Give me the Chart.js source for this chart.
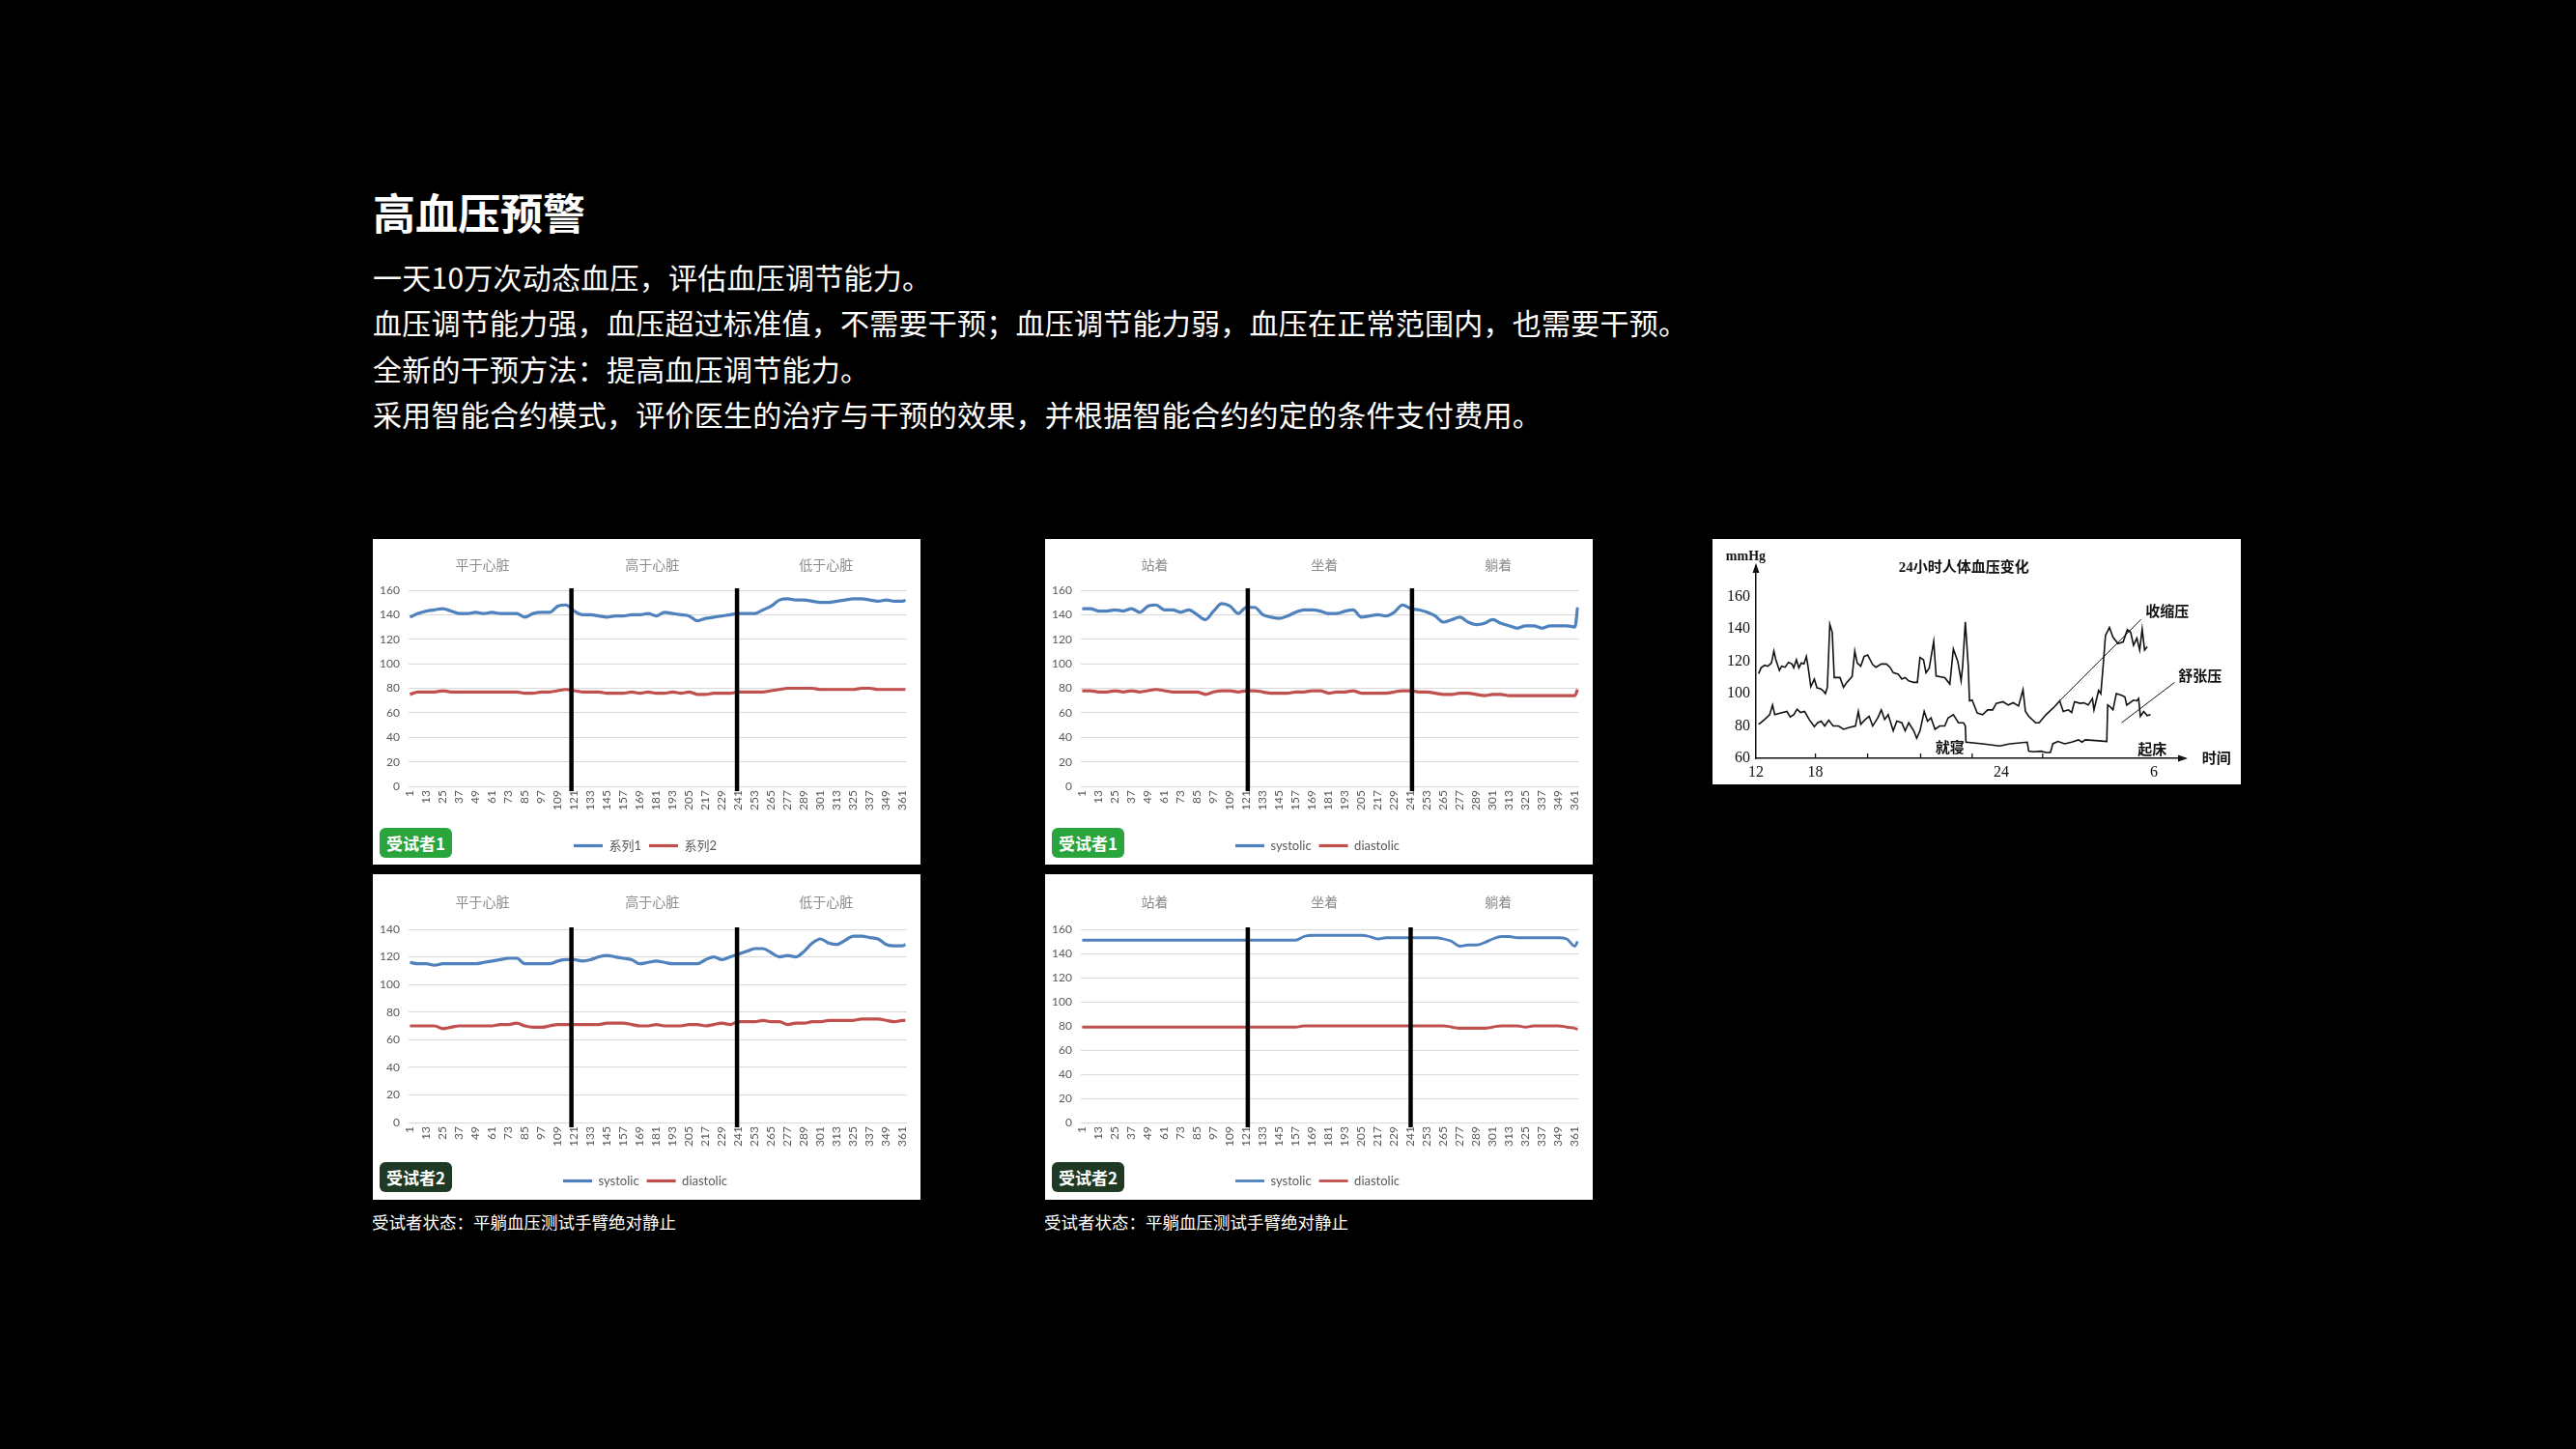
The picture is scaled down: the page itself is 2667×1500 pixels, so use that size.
<!DOCTYPE html>
<html lang="zh-CN">
<head>
<meta charset="utf-8">
<title>高血压预警</title>
<script src="https://cdn.jsdelivr.net/npm/chart.js@4.4.1/dist/chart.umd.min.js"></script>
<style>
  html, body { margin:0; padding:0; background:#000; }
  body { width:2667px; height:1500px; position:relative; overflow:hidden; font-family:"Noto Sans CJK SC","Noto Sans",sans-serif; color:#fff; }
  .txt { position:absolute; left:386px; white-space:nowrap; }
  #title { top:197px; font-size:44px; line-height:44px; font-weight:bold; }
  .body-line { font-size:30px; line-height:30px; letter-spacing:0.25px; }
  .panel { position:absolute; background:#fff; }
  .panel canvas { position:absolute; left:0; top:0; }
  .badge { position:absolute; left:7px; width:75px; height:31px; border-radius:6px; color:#fff; font-weight:bold; font-size:17px; line-height:31px; text-align:center; z-index:2; }
  .badge.g1 { background:#2aa43c; }
  .badge.g2 { background:#1e3a24; }
  .caption { position:absolute; font-size:17.5px; line-height:18px; color:#fff; white-space:nowrap; }
</style>
</head>
<body>
<div id="title" class="txt">高血压预警</div>
<div class="txt body-line" style="top:271px">一天10万次动态血压，评估血压调节能力。</div>
<div class="txt body-line" style="top:318px">血压调节能力强，血压超过标准值，不需要干预；血压调节能力弱，血压在正常范围内，也需要干预。</div>
<div class="txt body-line" style="top:366px">全新的干预方法：提高血压调节能力。</div>
<div class="txt body-line" style="top:413px">采用智能合约模式，评价医生的治疗与干预的效果，并根据智能合约约定的条件支付费用。</div>

<div class="panel" style="left:386px;top:558px;width:567px;height:337px"><canvas id="cA" width="567" height="337"></canvas><div class="badge g1" style="top:299px">受试者1</div></div>
<div class="panel" style="left:386px;top:905px;width:567px;height:337px"><canvas id="cB" width="567" height="337"></canvas><div class="badge g2" style="top:298px">受试者2</div></div>
<div class="panel" style="left:1082px;top:558px;width:567px;height:337px"><canvas id="cC" width="567" height="337"></canvas><div class="badge g1" style="top:299px">受试者1</div></div>
<div class="panel" style="left:1082px;top:905px;width:567px;height:337px"><canvas id="cD" width="567" height="337"></canvas><div class="badge g2" style="top:298px">受试者2</div></div>
<div class="panel" style="left:1773px;top:558px;width:547px;height:254px"><canvas id="cE" width="547" height="254"></canvas></div>

<div class="caption" style="left:385px;top:1256px">受试者状态：平躺血压测试手臂绝对静止</div>
<div class="caption" style="left:1081px;top:1256px">受试者状态：平躺血压测试手臂绝对静止</div>

<script>
// ---------- data: measurement index (x) ----------
const xs = [1,7,13,19,25,31,37,43,49,55,61,67,73,79,85,91,97,103,109,115,121,127,133,139,145,151,157,163,169,175,181,187,193,199,205,211,217,223,229,235,241,247,253,259,265,271,277,283,289,295,301,307,313,319,325,331,337,343,349,355,361,363];
const xTickValues = [1,13,25,37,49,61,73,85,97,109,121,133,145,157,169,181,193,205,217,229,241,253,265,277,289,301,313,325,337,349,361];

const sectionsHeart = ['平于心脏','高于心脏','低于心脏'];
const sectionsPosture = ['站着','坐着','躺着'];
const sectionCenters = [54, 178, 305];
const dividersA = [119, 240];
const dividersB = [119, 240];
const dividersC = [122, 242];
const dividersD = [122, 241];

// Panel A (受试者1, arm vs heart)
const sysA = [138,141,143,144,145,143,141,141,142,141, 142,141,141,141,138,141,142,142,147,148, 143,140,140,139,138,139,139,140,140,141, 139,142,141,140,139,135,137,138,139,140, 141,141,141,144,147,152,153,152,152,151, 150,150,151,152,153,153,152,151,152,151, 151,152];
const diaA = [75,77,77,77,78,77,77,77,77,77, 77,77,77,77,76,76,77,77,78,79, 78,77,77,77,76,76,76,77,76,77, 76,76,77,76,77,75,75,76,76,76, 77,77,77,77,78,79,80,80,80,80, 79,79,79,79,79,80,80,79,79,79, 79,79];
// Panel B (受试者2, arm vs heart)
const sysB = [116,115,115,114,115,115,115,115,115,116, 117,118,119,119,115,115,115,115,117,118, 118,117,118,120,121,120,119,118,115,116, 117,116,115,115,115,115,118,120,118,120, 122,124,126,126,123,120,121,120,124,130, 133,130,129,132,135,135,134,133,129,128, 128,129];
const diaB = [70,70,70,70,68,69,70,70,70,70, 70,71,71,72,70,69,69,70,71,71, 71,71,71,71,72,72,72,71,70,70, 71,70,70,70,71,71,70,71,72,71, 73,73,73,74,73,73,71,72,72,73, 73,74,74,74,74,75,75,75,74,73, 74,74];
// Panel C (受试者1, posture)
const sysC = [145,145,143,143,144,143,145,142,147,148, 144,144,142,144,140,136,143,149,147,141, 146,146,140,138,137,139,142,144,144,143, 141,141,143,144,138,139,140,139,142,148, 145,144,142,139,134,136,138,134,132,133, 136,133,131,129,131,131,129,131,131,131, 130,146];
const diaC = [78,78,77,77,78,77,78,77,78,79, 78,77,77,77,77,75,77,78,78,77, 78,78,77,76,76,76,77,77,78,78, 76,77,77,78,76,76,76,76,77,78, 78,77,77,76,75,75,76,76,75,74, 75,75,74,74,74,74,74,74,74,74, 74,79];
// Panel D (受试者2, posture)
const sysD = [151,151,151,151,151,151,151,151,151,151, 151,151,151,151,151,151,151,151,151,151, 151,151,151,151,151,151,151,154,155,155, 155,155,155,155,155,154,152,153,153,153, 153,153,153,153,152,150,146,147,147,149, 152,154,154,153,153,153,153,153,153,152, 146,150];
const diaD = [79,79,79,79,79,79,79,79,79,79, 79,79,79,79,79,79,79,79,79,79, 79,79,79,79,79,79,79,80,80,80, 80,80,80,80,80,80,80,80,80,80, 80,80,80,80,80,79,78,78,78,78, 79,80,80,80,79,80,80,80,80,79, 78,77];

// Panel E: 24小时人体血压变化 (time in hours after 12:00)
const eSysTime = [0.12,0.23,0.39,0.54,0.70,0.81,0.90,1.06,1.16,1.32, 1.47,1.63,1.71,1.83,1.94,2.05,2.17,2.28,2.36,2.48, 2.64,2.76,2.92,3.03,3.14,3.23,3.34,3.45,3.54,3.80, 3.96,4.11,4.35,4.47,4.58,4.74,4.89,5.05,5.28,5.43, 5.67,5.90,6.06,6.21,6.44,6.60,6.75,6.91,7.14,7.30, 7.42,7.58,7.69,7.84,8.04,8.15,8.54,8.77,8.93,9.13, 9.28,9.35,9.47,9.60,9.66,9.78,10.01,10.25,10.48,10.71, 10.87,11.18,11.41,11.64,11.88,12.08,12.19,12.34,12.65,12.81, 13.12,13.51,13.74,13.90,14.13,14.28,14.41,14.67,14.83,15.03, 15.22,15.29,15.50,15.60,15.71,15.81,15.99,16.15,16.38,16.61, 16.80,16.95,17.08,17.23,17.36,17.47,17.58,17.70];
const eSysValue = [112.4,116,117.6,117,119,126.4,121,114.4,117,116.4, 119.4,118.4,116,121,116,119,118.4,123,116.4,104.4, 109,103.6,103,102,100,104,143,138,110,110, 104,107,110.6,126.4,119,117,123,124,118,116.4, 118.4,118.4,116.4,113,112,109,110,108,107,107, 122.4,121,113,116,132.4,111,110,106,127.6,120, 108,117,144.4,118,95.6,96,88,87,90,90, 94,95,93,94.4,92.4,102.4,89,86,82,82, 87,92,95.6,89,90,88.4,95,94,94.4,93, 97,90,102,100,118,136,141,135,131,132, 139.6,138,130,134.4,127,140,127,129];
const eDiaTime = [0.12,0.39,0.62,0.75,0.85,1.09,1.40,1.55,1.71,1.86, 2.02,2.20,2.41,2.64,2.79,2.95,3.11,3.29,3.49,3.73, 3.96,4.19,4.50,4.63,4.74,4.94,5.12,5.28,5.51,5.67, 5.82,5.98,6.21,6.37,6.60,6.75,6.91,7.14,7.27,7.42, 7.61,7.76,7.92,8.10,8.31,8.54,8.69,8.93,9.16,9.39, 9.47,9.50,10.25,11.02,11.49,12.27,12.34,12.58,12.89,13.12, 13.32,13.43,13.66,13.97,14.28,14.59,14.75,14.90,15.37,15.87, 15.91,16.02,16.15,16.30,16.54,16.69,16.77,17.08,17.23,17.31, 17.39,17.54,17.70,17.85];
const eDiaValue = [81,84,87,93,87,88,89,85.6,87,90.4, 88.4,89,84,79.6,82,83,80,83.6,80,80, 78,79,80,89,81,84,86,80,85,90, 84,87,77,83,82,77,82,77,72.4,77, 89,83,85,78,80,80,85,87,82,82, 80,70,69,67.6,69,70,64.4,64,64.4,63.6, 63.6,69,70.4,69,70,71.4,70,71.4,71,70.4, 93,92,90,100,99,98,93,96,95.6,97, 86,89,86.4,87];
const eLeadSysTime = [13.74, 17.42];
const eLeadSysValue = [95.6, 146];
const eLeadDiaTime = [16.54, 18.94];
const eLeadDiaValue = [82, 107];
const eXTickTimes = [0, 2.69, 11.1, 18.0];
const eXTickLabels = ['12','18','24','6'];
const eYTicks = [60, 80, 100, 120, 140, 160];
const eTickMarkTimes = [2.69, 5.05, 7.45, 9.78, 12.97];
const eNoteTexts = ['收缩压','舒张压','就寝','起床','24小时人体血压变化','mmHg','时间'];
const eNoteTimes = [17.62, 19.1, 8.77, 17.93, 9.4, -0.46, 20.18];
const eNoteValues = [150, 110, 66, 65, 178, 185, 59.2];

// ---------- rendering ----------
const BLUE = '#4f81bd', RED = '#c0504d';
const TICK_FONT = 'Lato, "Noto Sans CJK SC", sans-serif';

function pts(xv, yv) { return xv.map((x, i) => ({ x: x, y: yv[i] })); }

function bpChart(id, legendNames, sys, dia, yMax, dividers, sections, topPad, xHeight, titleY, lw) {
  const deco = {
    id: 'bpDeco_' + id,
    afterDatasetsDraw(chart) {
      const { ctx, chartArea, scales } = chart;
      const x = scales.x;
      ctx.save();
      ctx.strokeStyle = '#000';
      ctx.lineWidth = 4.5;
      dividers.forEach(v => {
        const px = x.getPixelForValue(v);
        ctx.beginPath();
        ctx.moveTo(px, chartArea.top - 2);
        ctx.lineTo(px, chartArea.bottom + 5);
        ctx.stroke();
      });
      ctx.fillStyle = '#8c8c8c';
      ctx.font = '14px "Noto Sans CJK SC", sans-serif';
      ctx.textAlign = 'center';
      ctx.textBaseline = 'middle';
      sections.forEach((t, i) => ctx.fillText(t, x.getPixelForValue(sectionCenters[i]), titleY));
      ctx.restore();
    }
  };
  return new Chart(document.getElementById(id), {
    type: 'line',
    data: {
      datasets: [
        { label: legendNames[0], data: pts(xs, sys), borderColor: BLUE, backgroundColor: BLUE, borderWidth: lw, pointRadius: 0, cubicInterpolationMode: 'monotone', pointStyle: 'line' },
        { label: legendNames[1], data: pts(xs, dia), borderColor: RED, backgroundColor: RED, borderWidth: lw, pointRadius: 0, cubicInterpolationMode: 'monotone', pointStyle: 'line' }
      ]
    },
    options: {
      responsive: false, animation: false, events: [],
      layout: { padding: { left: 7, right: 10, top: topPad, bottom: 3 } },
      plugins: {
        tooltip: { enabled: false },
        legend: {
          position: 'bottom',
          labels: { usePointStyle: true, pointStyle: 'line', pointStyleWidth: 30, padding: 8, color: '#595959', font: { size: 13, family: TICK_FONT } }
        }
      },
      scales: {
        x: {
          type: 'linear', min: 0, max: 364,
          afterBuildTicks: ax => { ax.ticks = xTickValues.map(v => ({ value: v })); },
          afterFit: s => { s.height = xHeight; },
          grid: { display: false, drawTicks: false },
          border: { display: true, color: '#d9d9d9', width: 1 },
          ticks: { autoSkip: false, minRotation: 90, maxRotation: 90, padding: 4, color: '#595959', font: { size: 12, family: TICK_FONT }, callback: v => String(v) }
        },
        y: {
          min: 0, max: yMax,
          afterFit: s => { s.width = 30; },
          grid: { color: '#d9d9d9', drawTicks: false },
          border: { display: false },
          ticks: { stepSize: 20, padding: 9, color: '#595959', font: { size: 12, family: TICK_FONT } }
        }
      }
    },
    plugins: [deco]
  });
}

bpChart('cA', ['系列1', '系列2'], sysA, diaA, 160, dividersA, sectionsHeart, 53, 47, 27, 3.2);
bpChart('cB', ['systolic', 'diastolic'], sysB, diaB, 140, dividersB, sectionsHeart, 57, 46, 29, 3.2);
bpChart('cC', ['systolic', 'diastolic'], sysC, diaC, 160, dividersC, sectionsPosture, 53, 47, 27, 3.2);
bpChart('cD', ['systolic', 'diastolic'], sysD, diaD, 160, dividersD, sectionsPosture, 57, 46, 29, 2.8);

// Panel E
const SERIF = '"Liberation Serif", "Noto Sans CJK SC", serif';
const eDeco = {
  id: 'eDeco',
  afterDatasetsDraw(chart) {
    const { ctx, chartArea, scales } = chart;
    const x = scales.x, y = scales.y;
    ctx.save();
    ctx.fillStyle = '#111';
    ctx.strokeStyle = '#111';
    // arrow heads
    ctx.beginPath();
    ctx.moveTo(chartArea.left, chartArea.top - 3);
    ctx.lineTo(chartArea.left - 3.5, chartArea.top + 7);
    ctx.lineTo(chartArea.left + 3.5, chartArea.top + 7);
    ctx.closePath(); ctx.fill();
    ctx.beginPath();
    ctx.moveTo(chartArea.right + 3, chartArea.bottom);
    ctx.lineTo(chartArea.right - 7, chartArea.bottom - 3.5);
    ctx.lineTo(chartArea.right - 7, chartArea.bottom + 3.5);
    ctx.closePath(); ctx.fill();
    // small tick marks on time axis
    ctx.lineWidth = 1.3;
    eTickMarkTimes.forEach(t => {
      const px = x.getPixelForValue(t);
      ctx.beginPath(); ctx.moveTo(px, chartArea.bottom); ctx.lineTo(px, chartArea.bottom - 5); ctx.stroke();
    });
    // notes
    ctx.textBaseline = 'middle';
    eNoteTexts.forEach((t, i) => {
      const isLeft = (t === '收缩压' || t === '舒张压' || t === '时间');
      ctx.textAlign = isLeft ? 'left' : 'center';
      ctx.font = (t === 'mmHg') ? 'bold 14px ' + SERIF : 'bold 15px ' + SERIF;
      ctx.fillText(t, x.getPixelForValue(eNoteTimes[i]), y.getPixelForValue(eNoteValues[i]));
    });
    ctx.restore();
  }
};
new Chart(document.getElementById('cE'), {
  type: 'line',
  data: {
    datasets: [
      { label: '收缩压', data: pts(eSysTime, eSysValue), borderColor: '#111', borderWidth: 1.6, pointRadius: 0, tension: 0 },
      { label: '舒张压', data: pts(eDiaTime, eDiaValue), borderColor: '#111', borderWidth: 1.6, pointRadius: 0, tension: 0 },
      { label: '收缩压指示线', data: pts(eLeadSysTime, eLeadSysValue), borderColor: '#111', borderWidth: 1, pointRadius: 0 },
      { label: '舒张压指示线', data: pts(eLeadDiaTime, eLeadDiaValue), borderColor: '#111', borderWidth: 1, pointRadius: 0 }
    ]
  },
  options: {
    responsive: false, animation: false, events: [],
    layout: { padding: { left: 0, right: 58, top: 28, bottom: 0 } },
    plugins: { legend: { display: false }, tooltip: { enabled: false } },
    scales: {
      x: {
        type: 'linear', min: 0, max: 19.4,
        afterBuildTicks: ax => { ax.ticks = eXTickTimes.map(v => ({ value: v })); },
        afterFit: s => { s.height = 27; },
        grid: { display: false, drawTicks: false },
        border: { display: true, color: '#111', width: 1.5 },
        ticks: { autoSkip: false, maxRotation: 0, padding: 5, color: '#111', font: { size: 16, family: SERIF }, callback: (v, i) => eXTickLabels[i] }
      },
      y: {
        min: 60, max: 179,
        afterBuildTicks: ax => { ax.ticks = eYTicks.map(v => ({ value: v })); },
        afterFit: s => { s.width = 45; },
        grid: { display: false, drawTicks: false },
        border: { display: true, color: '#111', width: 1.5 },
        ticks: { padding: 6, color: '#111', font: { size: 16, family: SERIF } }
      }
    }
  },
  plugins: [eDeco]
});
</script>
</body>
</html>
